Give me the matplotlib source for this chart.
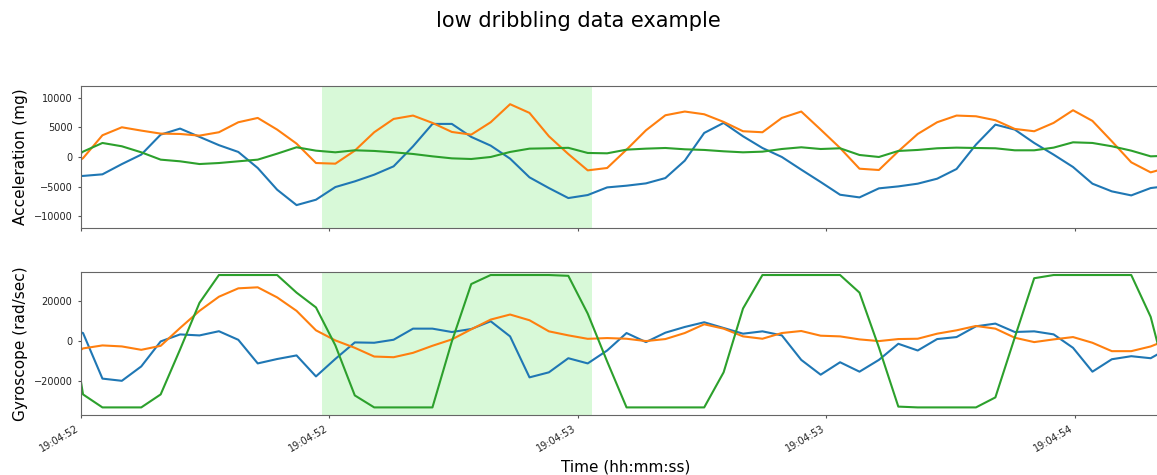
import numpy as np
import matplotlib
matplotlib.use("Agg")
import matplotlib.pyplot as plt
import matplotlib.dates as mdates

# IMU samples at 25.6 Hz, the first one lands just before 19:04:52
start = np.datetime64("2021-06-01T19:04:51.965500")
step = np.timedelta64(39062500, "ns")

acc_x = [-3300, -3200, -2930, -1200, 400, 3780, 4800, 3400, 2000, 850, -1860,
         -5530, -8130, -7220, -5080, -4120, -2990, -1580, 1800, 5590, 5590,
         3390, 1920, -280, -3440, -5250, -6940, -6430, -5140, -4850, -4460,
         -3560, -620, 4060, 5760, 3500, 1520, 0, -2140, -4230, -6380, -6830,
         -5300, -4970, -4510, -3670, -2030, 2090, 5470, 4630, 2370, 400,
         -1690, -4510, -5810, -6490, -5250, -4850]
acc_y = [-2500, -200, 3670, 5020, 4460, 3950, 3890, 3610, 4180, 5870, 6600,
         4630, 2260, -1020, -1130, 1070, 4180, 6430, 7000, 5760, 4230, 3780,
         5870, 8920, 7450, 3500, 500, -2260, -1860, 1240, 4510, 7050, 7680,
         7220, 5930, 4350, 4180, 6600, 7680, 4630, 1520, -1980, -2200, 960,
         3890, 5870, 7000, 6880, 6210, 4740, 4350, 5760, 7900, 6100, 2650,
         -900, -2600, -1690]
acc_z = [-1500, 900, 2370, 1810, 790, -450, -730, -1190, -1020, -730, -450,
         560, 1640, 1070, 790, 1130, 1020, 790, 510, 110, -230, -340, 0, 850,
         1410, 1470, 1550, 680, 620, 1240, 1410, 1520, 1300, 1190, 960, 790,
         900, 1350, 1640, 1350, 1470, 340, 0, 1020, 1190, 1470, 1580, 1520,
         1470, 1130, 1130, 1580, 2480, 2370, 1810, 1070, 110, 230]

gyr_x = [7000, 4200, -18600, -19700, -12500, 0, 3500, 3000, 5100, 800,
         -11000, -8800, -7000, -17500, -8740, -500, -670, 840, 6390, 6390,
         4700, 6200, 10080, 2520, -17980, -15460, -8400, -11000, -4540, 4200,
         -340, 4370, 7230, 9580, 6720, 3870, 5040, 3030, -9240, -16640,
         -10420, -15130, -9240, -1180, -4540, 1180, 2180, 7560, 8910, 4710,
         5040, 3530, -3190, -15130, -8910, -7390, -8400, -3000]
gyr_y = [-10000, -3500, -2000, -2500, -4200, -2200, 6720, 15290, 22350,
         26550, 27060, 22020, 15290, 5550, 500, -3190, -7560, -7900, -5710,
         -2180, 1000, 6050, 10920, 13450, 10590, 5040, 3030, 1300, 1680, 1340,
         170, 1180, 4200, 8570, 6390, 2520, 1340, 4200, 5210, 2860, 2520, 1010,
         170, 1180, 1340, 3870, 5550, 7730, 6390, 1850, -340, 1010, 2180, -670,
         -4870, -4870, -2520, 1340]
gyr_z = [33200, -26500, -33000, -33000, -33000, -26500, -4000, 19300, 33200,
         33200, 33200, 33200, 24400, 17000, -2000, -27000, -33000, -33000,
         -33000, -33000, 0, 28700, 33200, 33200, 33200, 33200, 32800, 13900,
         -10000, -33000, -33000, -33000, -33000, -33000, -15460, 16470, 33200,
         33200, 33200, 33200, 33200, 24400, -3000, -32600, -33000, -33000,
         -33000, -33000, -28000, 2000, 31600, 33200, 33200, 33200, 33200,
         33200, 12300, -25000]

# dribble window
span_start = np.datetime64("2021-06-01T19:04:52.486")
span_end = np.datetime64("2021-06-01T19:04:53.029")

t = start + np.arange(len(acc_x)) * step

fig = plt.figure(figsize=(11.57, 4.75), dpi=100)
ax1 = fig.add_axes([0.0698, 0.52, 0.9415, 0.299])
ax2 = fig.add_axes([0.0698, 0.1263, 0.9415, 0.301], sharex=ax1)

for ax, series in ((ax1, (acc_x, acc_y, acc_z)), (ax2, (gyr_x, gyr_y, gyr_z))):
    ax.axvspan(span_start, span_end, color="lightgreen", alpha=0.35, lw=0)
    for s in series:
        ax.plot(t, s, lw=1.5)
    ax.tick_params(labelsize=7, length=2.5, color="#555555", labelcolor="#222222")
    for sp in ax.spines.values():
        sp.set_color("#666666")

ax1.set_ylim(-12000, 12000)
ax1.set_yticks([-10000, -5000, 0, 5000, 10000])
ax2.set_ylim(-36800, 34700)
ax2.set_yticks([-20000, 0, 20000])
ax1.set_ylabel("Acceleration (mg)", fontsize=11)
ax2.set_ylabel("Gyroscope (rad/sec)", fontsize=11)
ax2.set_xlabel("Time (hh:mm:ss)", fontsize=11)

ax2.set_xlim(np.datetime64("2021-06-01T19:04:52.000"), t[-1])
ax2.xaxis.set_major_locator(mdates.MicrosecondLocator(interval=500000))
ax2.xaxis.set_major_formatter(mdates.DateFormatter("%H:%M:%S"))
plt.setp(ax1.get_xticklabels(), visible=False)
plt.setp(ax2.get_xticklabels(), rotation=30, ha="right")

fig.suptitle("low dribbling data example", fontsize=15, y=0.976)

fig.savefig("out.png", dpi=100)
